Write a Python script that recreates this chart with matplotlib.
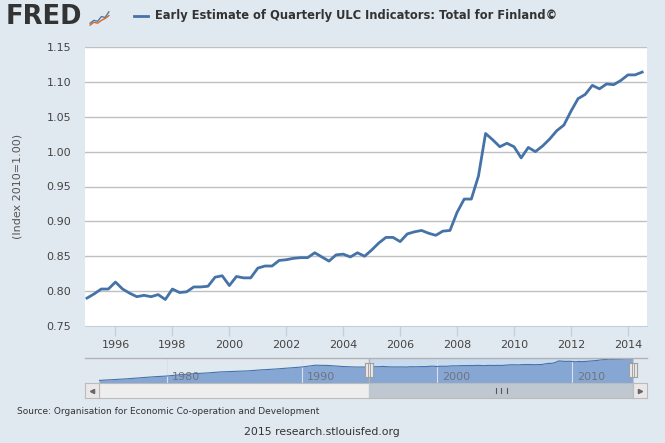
import numpy as np
import matplotlib
matplotlib.use('Agg')
import matplotlib.pyplot as plt
from matplotlib.patches import Rectangle

# Early Estimate of Quarterly ULC Indicators, Finland, 1995Q1 - 2014Q3 (index 2010=1.00)
ulc = [0.790, 0.796, 0.803, 0.803, 0.813, 0.803, 0.797, 0.792,
       0.794, 0.792, 0.795, 0.788, 0.803, 0.798, 0.799, 0.806,
       0.806, 0.807, 0.820, 0.822, 0.808, 0.821, 0.819, 0.819,
       0.833, 0.836, 0.836, 0.844, 0.845, 0.847, 0.848, 0.848,
       0.855, 0.849, 0.843, 0.852, 0.853, 0.849, 0.855, 0.850,
       0.859, 0.869, 0.877, 0.877, 0.871, 0.882, 0.885, 0.887,
       0.883, 0.880, 0.886, 0.887, 0.913, 0.932, 0.932, 0.965,
       1.026, 1.017, 1.007, 1.012, 1.007, 0.991, 1.006, 1.000,
       1.008, 1.018, 1.030, 1.038, 1.058, 1.076, 1.082, 1.095,
       1.090, 1.097, 1.096, 1.102, 1.110, 1.110, 1.114]
start_year = 1995

# older part of the series, only seen in the navigator (rough yearly reading)
early_years = np.arange(1975, 1995)
early_ulc = [0.27, 0.30, 0.33, 0.37, 0.41, 0.44, 0.49, 0.53, 0.56, 0.60,
             0.62, 0.64, 0.68, 0.71, 0.75, 0.79, 0.86, 0.85, 0.81, 0.79]

y_ticks = [0.75, 0.80, 0.85, 0.90, 0.95, 1.00, 1.05, 1.10, 1.15]
x_ticks = list(range(1996, 2015, 2))
nav_ticks = [1980, 1990, 2000, 2010]

title = 'Early Estimate of Quarterly ULC Indicators: Total for Finland©'
y_label = '(Index 2010=1.00)'
source = 'Source: Organisation for Economic Co-operation and Development'
footer = '2015 research.stlouisfed.org'

# small logo sparkline
icon_a = [0.2, 0.35, 0.3, 0.55, 0.5, 0.8]
icon_b = [0.1, 0.25, 0.2, 0.35, 0.45, 0.6]

W, H = 665, 443
BG = '#E1E9F0'
LINE = '#4572A7'
TXT = '#333333'


def box(x0, y0, x1, y1):
    return [x0 / W, 1 - y1 / H, (x1 - x0) / W, (y1 - y0) / H]


quarters = start_year + np.arange(len(ulc)) * 0.25

fig = plt.figure(figsize=(W / 100, H / 100), dpi=100, facecolor=BG)

# main chart
ax = fig.add_axes(box(85, 47, 647, 326))
ax.set_facecolor('white')
ax.plot(quarters, ulc, color=LINE, lw=2, solid_joinstyle='round', zorder=3)
ax.set_xlim(1994.93, 2014.67)
ax.set_ylim(0.75, 1.15)
ax.set_yticks(y_ticks)
ax.set_yticklabels([f'{v:.2f}' for v in y_ticks])
ax.set_xticks(x_ticks)
for v in y_ticks[1:]:
    ax.axhline(v, color='#C0C0C0', lw=1, zorder=1)
for s in ['top', 'right', 'left']:
    ax.spines[s].set_visible(False)
ax.spines['bottom'].set_color('#C0D0E0')
ax.tick_params(axis='y', length=0, pad=10, labelsize=8, labelcolor='#444444')
ax.tick_params(axis='x', length=7, width=1, color='#C0D0E0', pad=3,
               labelsize=8, labelcolor='#444444')
ax.set_ylabel(y_label, fontsize=8, color='#555555', labelpad=17)

# header
fig.text(6 / W, 1 - 17 / H, 'FRED', fontsize=18.5, fontweight='heavy', color='#333333',
         va='center', ha='left')
ic = fig.add_axes(box(89, 8, 110, 27))
ic.set_facecolor('#E8ECEF')
ic.plot(np.arange(len(icon_a)), icon_a, color='#5577AA', lw=1)
ic.plot(np.arange(len(icon_b)), icon_b, color='#D2691E', lw=1)
ic.set_xlim(-0.3, len(icon_a) - 0.7)
ic.set_ylim(0, 1)
ic.axis('off')
fig.add_artist(plt.Line2D([134 / W, 148 / W], [1 - 16 / H, 1 - 16 / H], color=LINE, lw=2))
fig.text(155 / W, 1 - 16 / H, title, fontsize=8.3, fontweight='bold', color=TXT,
         va='center', ha='left')

# navigator
nav_x = np.concatenate([early_years, quarters])
nav_y = np.concatenate([early_ulc, ulc])
nav = fig.add_axes(box(99, 358, 633, 383))
nav.set_facecolor(BG)
nav.set_xlim(nav_x[0], nav_x[-1])
nav.set_ylim(0.17, 1.14)
nav.axvspan(quarters[0], quarters[-1], color='#C8DAEE', zorder=0)
nav.fill_between(nav_x, 0.17, nav_y, color='#86A6D3', lw=0, zorder=1)
nav.plot(nav_x, nav_y, color=LINE, lw=0.8, zorder=2)
for t in nav_ticks:
    nav.axvline(t, color='#D8E0EA', lw=0.8, zorder=1.5)
    nav.text(t + 0.4, 0.26, str(t), transform=nav.get_xaxis_transform(),
             fontsize=8, color='#6F7480', ha='left', va='center', zorder=3)
nav.axis('off')
# outline and handles
fig.add_artist(plt.Line2D([85 / W, 647 / W], [1 - 358 / H] * 2, color='#B2B1B6', lw=1))
for q in (quarters[0], quarters[-1]):
    nav.plot([q, q], [0, 1], transform=nav.get_xaxis_transform(), color='#B2B1B6',
             lw=1, zorder=4)
    hx = nav.transData.transform((q, 0))[0]
    hb = fig.add_axes(box(hx - 4, 363, hx + 4, 377))
    hb.set_facecolor('#EBE7E8')
    for s in hb.spines.values():
        s.set_color('#A0A0A0')
    hb.axvline(0.38, color='#999999', lw=0.6)
    hb.axvline(0.62, color='#999999', lw=0.6)
    hb.set_xticks([])
    hb.set_yticks([])

# scrollbar
sb = fig.add_axes(box(99, 383, 633, 398))
sb.set_xlim(nav_x[0], nav_x[-1])
sb.set_ylim(0, 1)
sb.set_facecolor('#EEEEEE')
sb.axvspan(quarters[0], quarters[-1], color='#BFC8D1')
mid = (quarters[0] + quarters[-1]) / 2
for d in (-0.4, 0, 0.4):
    sb.plot([mid + d, mid + d], [0.35, 0.65], color='#555555', lw=0.8)
sb.set_xticks([])
sb.set_yticks([])
for s in sb.spines.values():
    s.set_color('#BBBBBB')
for (x0, x1, mark) in ((85, 99, '<'), (633, 647, '>')):
    b = fig.add_axes(box(x0, 383, x1, 398))
    b.set_facecolor('#EBE7E8')
    b.plot([0.5], [0.5], marker=mark, ms=3, color='#666666')
    b.set_xlim(0, 1)
    b.set_ylim(0, 1)
    b.set_xticks([])
    b.set_yticks([])
    for s in b.spines.values():
        s.set_color('#BBBBBB')

fig.text(17 / W, 1 - 412 / H, source, fontsize=6.5, color=TXT, va='center', ha='left')
fig.text(322 / W, 1 - 432 / H, footer, fontsize=7.8, color=TXT, va='center', ha='center')

fig.savefig('out.png', dpi=100, facecolor=BG)
